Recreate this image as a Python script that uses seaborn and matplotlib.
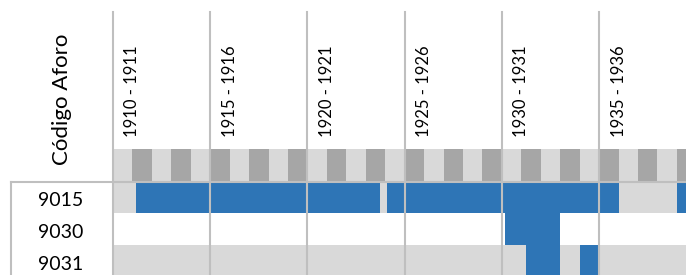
import numpy as np
import seaborn as sns
import matplotlib.pyplot as plt
from matplotlib.colors import ListedColormap

# hydrological years shown (1910-1911 ... ), monthly resolution
first_year = 1910
n_years = 30
label_years = [1910, 1915, 1920, 1925, 1930, 1935]

stations = ["9015", "9030", "9031"]
# periods with data: (year, month offset) start -> end (exclusive)
periods_9015 = [((1911, 2), (1923, 9)), ((1924, 1), (1936, 0)), ((1939, 0), (1940, 0))]
periods_9030 = [((1930, 2), (1933, 0))]
periods_9031 = [((1931, 3), (1933, 0)), ((1934, 0), (1935, 0))]
periods = [periods_9015, periods_9030, periods_9031]
row_background = [1, 0, 1]  # 0 white, 1 light gray

WHITE, LIGHT, DARK, BLUE = "#ffffff", "#d9d9d9", "#a6a6a6", "#2e75b6"
GRID = "#bfbfbf"

n_months = n_years * 12


def month_index(ym):
    return (ym[0] - first_year) * 12 + ym[1]


grid = np.zeros((len(stations) + 1, n_months), dtype=int)
# header strip: alternate light / dark per year
for y in range(n_years):
    grid[0, y * 12:(y + 1) * 12] = 1 if y % 2 == 0 else 2
for i, (per, bg) in enumerate(zip(periods, row_background)):
    grid[i + 1, :] = bg
    for a, b in per:
        grid[i + 1, month_index(a):month_index(b)] = 3

plt.rcParams["font.family"] = ["Lato", "DejaVu Sans"]
fig = plt.figure(figsize=(6.86, 2.75), dpi=100)
ax = fig.add_axes([113 / 686, 0, 573 / 686, 126 / 275])

sns.heatmap(grid, ax=ax, cmap=ListedColormap([WHITE, LIGHT, DARK, BLUE]),
            vmin=-0.5, vmax=3.5, cbar=False, linewidths=0)

ax.set_xlim(0, 353.6)
ax.set_ylim(3.94, 0)

# top tick labels
ax.xaxis.tick_top()
ax.set_xticks([(y - first_year) * 12 + 12 for y in label_years])
ax.set_xticklabels([f"{y} - {y + 1}" for y in label_years], rotation=90,
                   fontsize=12, va="bottom", ha="center")
ax.tick_params(axis="x", length=0, pad=8.6)

ax.set_yticks([1.62, 2.62, 3.62])
ax.set_yticklabels(stations, rotation=0, fontsize=14, ha="center")
ax.tick_params(axis="y", length=0, pad=37.4)
ax.set_xlabel("")
ax.set_ylabel("")
for s in ax.spines.values():
    s.set_visible(False)

# vertical grid lines every 5 years, reaching up into the label area
for y in label_years:
    ax.axvline((y - first_year) * 12, ymin=0, ymax=263 / 126, color=GRID,
               lw=1.5, clip_on=False, zorder=5)

# separator under header and left border of label box
trans = ax.get_yaxis_transform()
ax.plot([-102 / 573, 1], [1.02, 1.02], transform=trans, color=GRID, lw=1.5,
        clip_on=False, zorder=5)
ax.plot([-102 / 573, -102 / 573], [1.02, 3.94], transform=trans, color=GRID,
        lw=1.5, clip_on=False, zorder=5)

fig.text(62 / 686, 1 - 99 / 275, "Código Aforo", rotation=90, fontsize=16,
         ha="center", va="center")

fig.savefig("out.png", dpi=100)
